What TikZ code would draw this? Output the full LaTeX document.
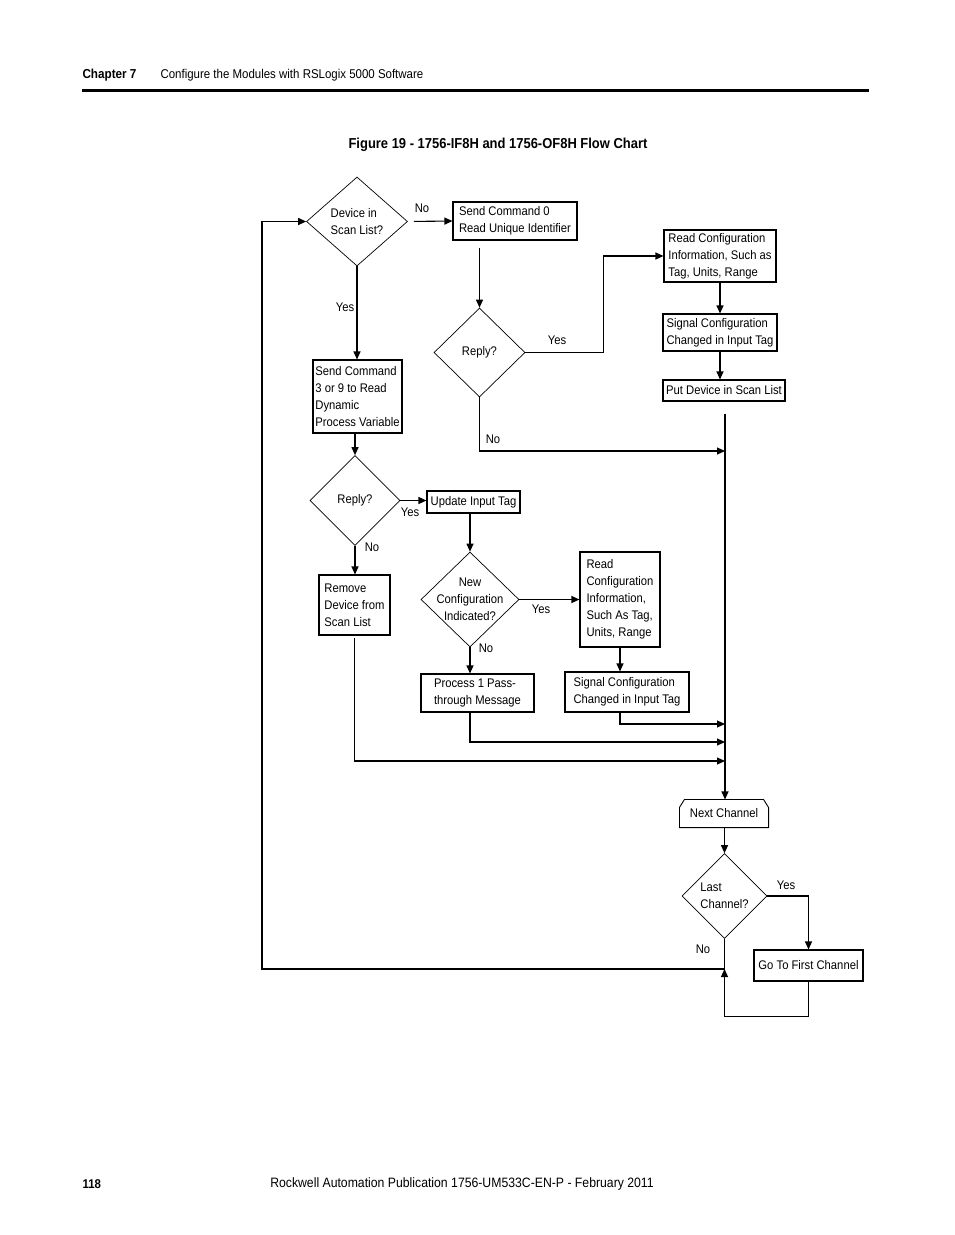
\documentclass[tikz,border=0pt]{standalone}
\usepackage{fontspec}
\setmainfont{Liberation Sans}[FakeStretch=0.9]
\usetikzlibrary{shapes.geometric,arrows.meta}
\tikzset{
  box/.style={draw,align=left,inner sep=2pt},
  dia/.style={draw,diamond,line width=0.7pt,align=left,inner sep=-12pt},
  lbl/.style={inner sep=0pt},
}
\begin{document}
\begin{tikzpicture}[x=1pt,y=-1pt,line width=1.1pt,>={Triangle[length=8pt,width=7pt]},
  every node/.style={font=\fontsize{12.5}{17}\selectfont}]
\useasboundingbox (0,0) rectangle (954,1235);
\node[lbl,anchor=base west,font=\fontsize{13}{15}\selectfont\bfseries] (chap)at(82,78.5){Chapter 7};
\node[lbl,anchor=base west,font=\fontsize{12.75}{15}\selectfont] (conf)at(160,78.5){Configure the Modules with RSLogix 5000 Software};
\draw[line width=3pt] (82,90.5) -- (869,90.5);
\node[lbl,font=\fontsize{14.4}{17}\selectfont\bfseries] (title)at(498,145){Figure 19 - 1756-IF8H and 1756-OF8H Flow Chart};

\node[dia,minimum width=101pt,minimum height=89pt] (dev)at(357,221.5){Device in\\Scan List?};
\node[box,minimum width=124pt,minimum height=38pt] (cmd0)at(515,221){Send Command 0\\Read Unique Identifier};
\node[dia,minimum width=91pt,minimum height=89pt] (rep1)at(479.5,352.5){Reply?};
\node[box,minimum width=112pt,minimum height=52pt] (rdcfg1)at(720,256){Read Configuration\\Information, Such as\\Tag, Units, Range};
\node[box,minimum width=114pt,minimum height=37pt] (sigcfg1)at(720,332.5){Signal Configuration\\Changed in Input Tag};
\node[box,minimum width=122pt,minimum height=21pt] (putdev)at(724,390.5){Put Device in Scan List};
\node[box,minimum width=89pt,minimum height=73pt] (cmd3)at(357.5,396.5){Send Command\\3 or 9 to Read\\Dynamic\\Process Variable};
\node[dia,minimum width=90pt,minimum height=90pt] (rep2)at(355,500.5){Reply?};
\node[box,minimum width=93pt,minimum height=22pt] (upd)at(473.5,502){Update Input Tag};
\node[dia,align=center,minimum width=98pt,minimum height=95pt] (newcfg)at(470,599.5){New\\Configuration\\Indicated?};
\node[box,minimum width=80pt,minimum height=95pt] (rdcfg2)at(620,599.5){Read\\Configuration\\Information,\\Such As Tag,\\Units, Range};
\node[box,minimum width=124pt,minimum height=40pt] (sigcfg2)at(627,692){Signal Configuration\\Changed in Input Tag};
\node[box,minimum width=113pt,minimum height=38pt] (pass)at(477.5,693){Process 1 Pass-\\through Message};
\node[box,minimum width=71pt,minimum height=60pt] (remove)at(354.5,605){Remove\\Device from\\Scan List};
\node[minimum width=88pt,minimum height=27pt] (nextch)at(724,813.5){Next Channel};
\draw[line width=0.9pt] (nextch.south west) -- ([yshift=-8pt]nextch.north west) -- ([xshift=5pt]nextch.north west) -- ([xshift=-5pt]nextch.north east) -- ([yshift=-8pt]nextch.north east) -- (nextch.south east) -- cycle;
\node[dia,minimum width=85pt,minimum height=85pt] (last)at(724.5,896){Last\\Channel?};
\node[box,minimum width=109pt,minimum height=31pt] (gofirst)at(808.5,965.5){Go To First Channel};

\node[lbl] (no1)at(422,208){No};
\node[lbl] (yes1)at(345,307){Yes};
\node[lbl] (yes2)at(557,340){Yes};
\node[lbl] (no2)at(493,439){No};
\node[lbl] (yes3)at(410,512){Yes};
\node[lbl] (no3)at(372,547){No};
\node[lbl] (yes4)at(541,609){Yes};
\node[lbl] (no4)at(486,648){No};
\node[lbl] (yes5)at(786,885){Yes};
\node[lbl] (no5)at(703,949){No};

\coordinate (j1)at(725,451);
\coordinate (j2)at(725,724);
\coordinate (j3)at(725,742);
\coordinate (j4)at(725,761);
\coordinate (ret)at(262,969);
\draw[->,shorten <=6pt] (dev.east) -- (cmd0.west);
\draw[->,shorten <=7pt] (cmd0.south -| rep1.north) -- (rep1.north);
\draw[->] (rep1.east) -- ++(78,0) |- (rdcfg1.west);
\draw[->] (rdcfg1.south) -- (sigcfg1.north);
\draw[->] (sigcfg1.south) -- (sigcfg1.south |- putdev.north);
\draw[->] (rep1.south) |- (j1);
\draw[->,shorten <=12pt] (putdev.south -| j1) -- (nextch.north -| j1);
\draw[->] (dev.south) -- (dev.south |- cmd3.north);
\draw[->] (cmd3.south -| rep2.north) -- (rep2.north);
\draw[->] (rep2.east) -- (rep2.east -| upd.west);
\draw[->] (upd.south -| newcfg.north) -- (newcfg.north);
\draw[->] (newcfg.east) -- (newcfg.east -| rdcfg2.west);
\draw[->] (rdcfg2.south) -- (rdcfg2.south |- sigcfg2.north);
\draw[->] (newcfg.south) -- (newcfg.south |- pass.north);
\draw[->] (rdcfg2.south |- sigcfg2.south) |- (j2);
\draw[->] (newcfg.south |- pass.south) |- (j3);
\draw[->] (rep2.south) -- (rep2.south |- remove.north);
\draw[->,shorten <=2pt] (remove.south) |- (j4);
\draw[->] (nextch.south -| last.north) -- (last.north);
\draw[->] (last.east) -| (gofirst.north);
\draw[->] (last.south) |- (ret) |- (dev.west);
\draw[->] (gofirst.south) -- ++(0,35) -| (last.south |- ret);

\node[lbl,anchor=base west,font=\fontsize{12.7}{15}\selectfont\bfseries] (pgno)at(82,1188.5){118};
\node[lbl,font=\fontsize{13.6}{15}\selectfont] (pub)at(462,1184){Rockwell Automation Publication 1756-UM533C-EN-P - February 2011};
\end{tikzpicture}
\end{document}
